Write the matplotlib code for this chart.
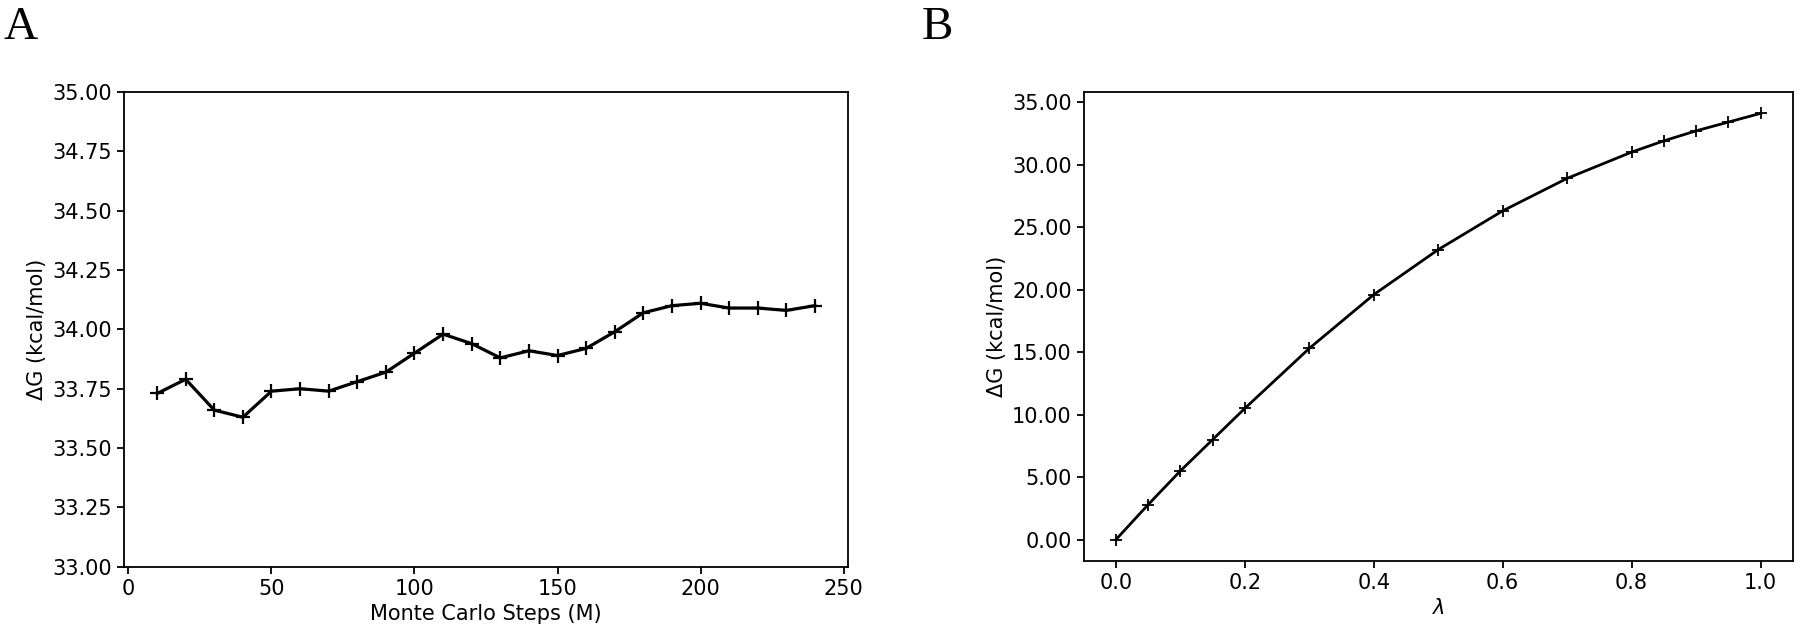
import numpy as np
import matplotlib
matplotlib.use("Agg")
import matplotlib.pyplot as plt
from matplotlib.ticker import FormatStrFormatter

# Panel A: convergence over Monte Carlo steps
mc_steps = [10, 20, 30, 40, 50, 60, 70, 80, 90, 100, 110, 120,
            130, 140, 150, 160, 170, 180, 190, 200, 210, 220, 230, 240]
dg_steps = [33.73, 33.79, 33.66, 33.63, 33.74, 33.75, 33.74, 33.78,
            33.82, 33.90, 33.98, 33.94, 33.88, 33.91, 33.89, 33.92,
            33.99, 34.07, 34.10, 34.11, 34.09, 34.09, 34.08, 34.10]

# Panel B: cumulative dG along lambda
lambdas = [0.0, 0.05, 0.1, 0.15, 0.2, 0.3, 0.4, 0.5, 0.6, 0.7,
           0.8, 0.85, 0.9, 0.95, 1.0]
dg_lambda = [0.0, 2.8, 5.5, 8.0, 10.5, 15.3, 19.6, 23.2, 26.3, 28.9,
             31.0, 31.9, 32.7, 33.4, 34.1]

plt.rcParams['font.family'] = ['DejaVu Sans']
fig = plt.figure(figsize=(18, 6.39), dpi=100)

# left panel
ax1 = fig.add_axes([0.069, 0.113, 0.402, 0.743])
ax1.plot(mc_steps, dg_steps, color='black', lw=2.3, marker='+', ms=10, mew=1.6)
ax1.set_ylim(33.0, 35.0)
ax1.set_yticks(np.arange(33.0, 35.01, 0.25))
ax1.yaxis.set_major_formatter(FormatStrFormatter('%.2f'))
ax1.set_xticks([0, 50, 100, 150, 200, 250])
ax1.set_xlabel('Monte Carlo Steps (M)', fontsize=15)
ax1.set_ylabel('ΔG (kcal/mol)', fontsize=15)
ax1.tick_params(labelsize=15, width=1.3, length=5)

# right panel
ax2 = fig.add_axes([0.602, 0.122, 0.394, 0.734])
ax2.plot(lambdas, dg_lambda, color='black', lw=2, marker='+', ms=9, mew=1.3)
ax2.set_yticks(np.arange(0, 35.01, 5))
ax2.yaxis.set_major_formatter(FormatStrFormatter('%.2f'))
ax2.set_xticks([0.0, 0.2, 0.4, 0.6, 0.8, 1.0])
ax2.xaxis.set_major_formatter(FormatStrFormatter('%.1f'))
ax2.set_xlabel(r'$\lambda$', fontsize=15)
ax2.set_ylabel('ΔG (kcal/mol)', fontsize=15)
ax2.tick_params(labelsize=15, width=1.3, length=5)

for ax in (ax1, ax2):
    for s in ax.spines.values():
        s.set_linewidth(1.3)

# panel letters
fig.text(0.002, 0.939, 'A', fontsize=34, family='Liberation Serif', va='baseline')
fig.text(0.512, 0.939, 'B', fontsize=34, family='Liberation Serif', va='baseline')

fig.savefig('out.png', dpi=100, facecolor='white')
